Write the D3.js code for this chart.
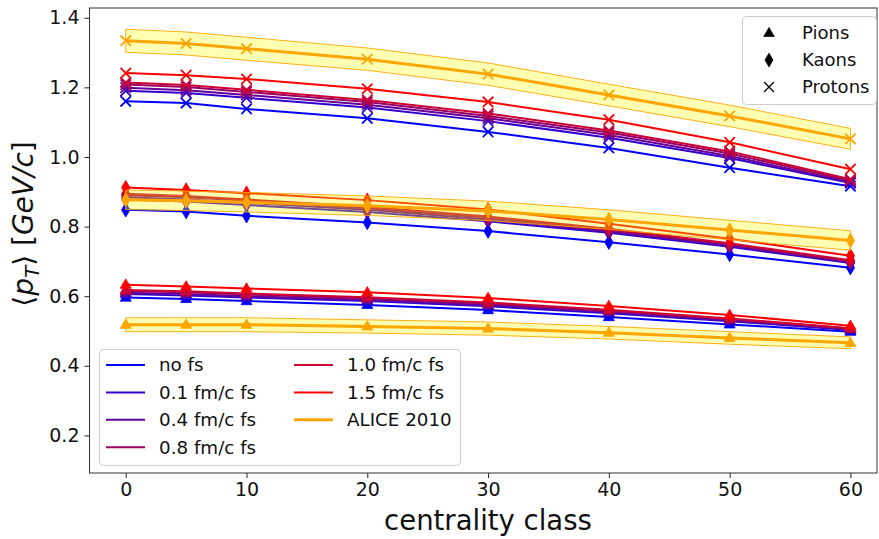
<!DOCTYPE html>
<html>
<head>
<meta charset="utf-8">
<script src="https://cdn.jsdelivr.net/npm/d3@7"></script>
<style>
  body { margin: 0; background: #fff; }
  svg { display: block; font-family: "DejaVu Sans", sans-serif; }
</style>
</head>
<body>
<svg id="chart" width="879" height="539"></svg>
<script>
// Centrality classes (percent)
const centrality = [0, 5, 10, 20, 30, 40, 50, 60];

// Model runs with different free-streaming times
const runLabels = ["no fs", "0.1 fm/c fs", "0.4 fm/c fs", "0.8 fm/c fs", "1.0 fm/c fs", "1.5 fm/c fs"];
const runColors = ["#0000ff", "#3300cc", "#660099", "#990066", "#cc0033", "#ff0000"];

// <pT> of pions per run
const pionsNoFs  = [0.596, 0.592, 0.586, 0.575, 0.560, 0.540, 0.519, 0.498];
const pionsFs01  = [0.606, 0.602, 0.596, 0.586, 0.571, 0.551, 0.528, 0.503];
const pionsFs04  = [0.610, 0.606, 0.600, 0.590, 0.575, 0.555, 0.531, 0.505];
const pionsFs08  = [0.615, 0.611, 0.605, 0.594, 0.579, 0.558, 0.534, 0.507];
const pionsFs10  = [0.618, 0.614, 0.608, 0.597, 0.582, 0.561, 0.536, 0.508];
const pionsFs15  = [0.633, 0.628, 0.622, 0.611, 0.595, 0.572, 0.546, 0.515];

// <pT> of kaons per run
const kaonsNoFs  = [0.848, 0.843, 0.831, 0.812, 0.787, 0.755, 0.720, 0.682];
const kaonsFs01  = [0.878, 0.872, 0.862, 0.842, 0.815, 0.782, 0.742, 0.695];
const kaonsFs04  = [0.884, 0.878, 0.868, 0.848, 0.820, 0.786, 0.746, 0.698];
const kaonsFs08  = [0.890, 0.884, 0.874, 0.853, 0.825, 0.790, 0.749, 0.700];
const kaonsFs10  = [0.894, 0.888, 0.878, 0.857, 0.829, 0.794, 0.752, 0.703];
const kaonsFs15  = [0.912, 0.905, 0.896, 0.876, 0.849, 0.808, 0.765, 0.716];

// <pT> of protons per run
const protonsNoFs = [1.160, 1.155, 1.138, 1.111, 1.072, 1.026, 0.969, 0.916];
const protonsFs01 = [1.190, 1.184, 1.170, 1.142, 1.103, 1.055, 0.997, 0.925];
const protonsFs04 = [1.199, 1.192, 1.178, 1.150, 1.111, 1.063, 1.003, 0.928];
const protonsFs08 = [1.208, 1.201, 1.187, 1.158, 1.118, 1.070, 1.010, 0.932];
const protonsFs10 = [1.214, 1.207, 1.193, 1.164, 1.125, 1.076, 1.016, 0.936];
const protonsFs15 = [1.241, 1.235, 1.224, 1.196, 1.158, 1.107, 1.042, 0.965];

// ALICE 2010 measurements with uncertainties
const alicePions      = [0.518, 0.518, 0.518, 0.513, 0.507, 0.495, 0.480, 0.466];
const alicePionsErr   = [0.020, 0.020, 0.020, 0.019, 0.019, 0.018, 0.018, 0.017];
const aliceKaons      = [0.877, 0.874, 0.870, 0.860, 0.845, 0.820, 0.790, 0.760];
const aliceKaonsErr   = [0.028, 0.028, 0.028, 0.028, 0.028, 0.028, 0.028, 0.028];
const aliceProtons    = [1.334, 1.326, 1.311, 1.281, 1.238, 1.178, 1.118, 1.052];
const aliceProtonsErr = [0.033, 0.033, 0.033, 0.032, 0.032, 0.031, 0.031, 0.030];

const xTicks = [0, 10, 20, 30, 40, 50, 60];
const yTicks = [0.2, 0.4, 0.6, 0.8, 1.0, 1.2, 1.4];

const pionRuns   = [pionsNoFs, pionsFs01, pionsFs04, pionsFs08, pionsFs10, pionsFs15];
const kaonRuns   = [kaonsNoFs, kaonsFs01, kaonsFs04, kaonsFs08, kaonsFs10, kaonsFs15];
const protonRuns = [protonsNoFs, protonsFs01, protonsFs04, protonsFs08, protonsFs10, protonsFs15];

const svg = d3.select("#chart");
const plot = { left: 89.5, right: 877, top: 8, bottom: 473 };

const x = d3.scaleLinear().domain([-3, 62.2]).range([plot.left, plot.right]);
const y = d3.scaleLinear().domain([0.092, 1.428]).range([plot.bottom, plot.top]);

// Marker shapes, centred at the origin
function markerPath(kind, s) {
  const p = d3.path();
  if (kind === "tri") {
    const r = s;
    p.moveTo(0, -r); p.lineTo(r * 0.95, r * 0.62); p.lineTo(-r * 0.95, r * 0.62); p.closePath();
  } else if (kind === "dia") {
    const h = s * 1.25, w = s * 0.72;
    p.moveTo(0, -h); p.lineTo(w, 0); p.lineTo(0, h); p.lineTo(-w, 0); p.closePath();
  } else {
    const r = s * 0.9;
    p.moveTo(-r, -r); p.lineTo(r, r); p.moveTo(-r, r); p.lineTo(r, -r);
  }
  return p.toString();
}

function drawMarkers(g, values, kind, color) {
  g.selectAll(null).data(values).join("path")
    .attr("transform", (d, i) => `translate(${x(centrality[i])},${y(d)})`)
    .attr("d", markerPath(kind, 5.8))
    .attr("fill", kind === "x" ? "none" : color)
    .attr("stroke", color)
    .attr("stroke-width", kind === "x" ? 1.8 : 0.8);
}

const line = d3.line().x((d, i) => x(centrality[i])).y(d => y(d));

svg.append("defs").append("clipPath").attr("id", "clip")
  .append("rect").attr("x", plot.left).attr("y", plot.top)
  .attr("width", plot.right - plot.left).attr("height", plot.bottom - plot.top);

const body = svg.append("g").attr("clip-path", "url(#clip)");

const species = [
  { runs: pionRuns,   alice: alicePions,   err: alicePionsErr,   kind: "tri" },
  { runs: kaonRuns,   alice: aliceKaons,   err: aliceKaonsErr,   kind: "dia" },
  { runs: protonRuns, alice: aliceProtons, err: aliceProtonsErr, kind: "x" }
];

species.forEach(sp => {
  sp.runs.forEach((vals, r) => {
    const g = body.append("g");
    g.append("path").datum(vals).attr("d", line)
      .attr("fill", "none").attr("stroke", runColors[r]).attr("stroke-width", 2);
    drawMarkers(g, vals, sp.kind, runColors[r]);
  });
});

species.forEach(sp => {
  const g = body.append("g");
  const area = d3.area()
    .x((d, i) => x(centrality[i]))
    .y0((d, i) => y(d - sp.err[i]))
    .y1((d, i) => y(d + sp.err[i]));
  g.append("path").datum(sp.alice).attr("d", area)
    .attr("fill", "#ffff00").attr("fill-opacity", 0.3)
    .attr("stroke", "#ffa500").attr("stroke-width", 1).attr("stroke-opacity", 0.9);
  g.append("path").datum(sp.alice).attr("d", line)
    .attr("fill", "none").attr("stroke", "#ffa500").attr("stroke-width", 3);
  drawMarkers(g, sp.alice, sp.kind, "#ffa500");
});

// Axes
const xAxis = svg.append("g").attr("transform", `translate(0,${plot.bottom})`)
  .call(d3.axisBottom(x).tickValues(xTicks).tickFormat(d3.format("d")).tickSize(5).tickPadding(5));
const yAxis = svg.append("g").attr("transform", `translate(${plot.left},0)`)
  .call(d3.axisLeft(y).tickValues(yTicks).tickFormat(d3.format(".1f")).tickSize(5).tickPadding(5));
[xAxis, yAxis].forEach(a => {
  a.select(".domain").remove();
  a.selectAll("line").attr("stroke", "#222").attr("stroke-width", 1);
  a.selectAll("text").attr("fill", "#111").style("font-size", "19px").style("font-family", "DejaVu Sans");
});

svg.append("rect").attr("x", plot.left).attr("y", plot.top)
  .attr("width", plot.right - plot.left).attr("height", plot.bottom - plot.top)
  .attr("fill", "none").attr("stroke", "#333").attr("stroke-width", 1);

// Axis titles
svg.append("text").attr("x", 488).attr("y", 530)
  .attr("text-anchor", "middle").style("font-size", "27.5px").attr("fill", "#111")
  .text("centrality class");

const yl = svg.append("text").attr("transform", "translate(33,224) rotate(-90)")
  .attr("text-anchor", "middle").style("font-size", "28px").attr("fill", "#111");
yl.append("tspan").text("\u27E8");
yl.append("tspan").style("font-style", "italic").text("p");
yl.append("tspan").style("font-style", "italic").style("font-size", "20px").attr("dy", 6).text("T");
yl.append("tspan").attr("dy", -6).text("\u27E9 [");
yl.append("tspan").style("font-style", "italic").text("GeV/c");
yl.append("tspan").text("]");

// Species legend (upper right)
const leg1 = svg.append("g");
leg1.append("rect").attr("x", 742.5).attr("y", 16.5).attr("width", 134).attr("height", 88)
  .attr("rx", 4).attr("fill", "#fff").attr("fill-opacity", 0.8).attr("stroke", "#ccc");
[["tri", "Pions"], ["dia", "Kaons"], ["x", "Protons"]].forEach(([k, t], i) => {
  const cy = 33 + i * 27;
  leg1.append("path").attr("transform", `translate(769,${cy})`).attr("d", markerPath(k, 5.5))
    .attr("fill", k === "x" ? "none" : "#000").attr("stroke", "#000")
    .attr("stroke-width", k === "x" ? 1.3 : 0.8);
  leg1.append("text").attr("x", 802).attr("y", cy).attr("dy", "0.35em")
    .style("font-size", "18px").attr("fill", "#111").text(t);
});

// Run legend (lower left)
const leg2 = svg.append("g");
leg2.append("rect").attr("x", 99.5).attr("y", 349.5).attr("width", 361).attr("height", 116)
  .attr("rx", 4).attr("fill", "#fff").attr("fill-opacity", 0.8).attr("stroke", "#ccc");
const legItems = runLabels.map((t, i) => ({ t, c: runColors[i], w: 2 }))
  .concat([{ t: "ALICE 2010", c: "#ffa500", w: 3 }]);
legItems.forEach((it, i) => {
  const col = i < 4 ? 0 : 1, row = i < 4 ? i : i - 4;
  const lx = col === 0 ? 106 : 294;
  const cy = 365 + row * 27.4;
  leg2.append("line").attr("x1", lx).attr("x2", lx + 39).attr("y1", cy).attr("y2", cy)
    .attr("stroke", it.c).attr("stroke-width", it.w);
  leg2.append("text").attr("x", lx + 53).attr("y", cy).attr("dy", "0.35em")
    .style("font-size", "18.3px").attr("fill", "#111").text(it.t);
});
</script>
</body>
</html>
